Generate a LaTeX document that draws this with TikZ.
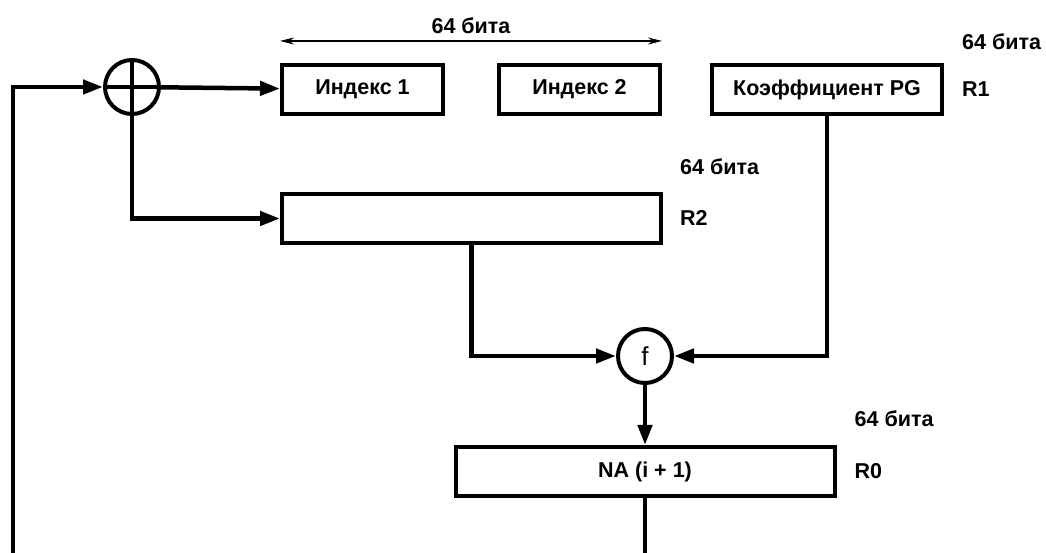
\documentclass[tikz,border=0pt]{standalone}
\usepackage{fontspec}
\setmainfont{Liberation Sans}
\usetikzlibrary{positioning, arrows.meta}

\begin{document}
\begin{tikzpicture}[x=1pt, y=1pt,
    block/.style={rectangle, draw, line width=4pt, minimum height=49pt,
                  font=\fontsize{21.5}{25}\selectfont\bfseries, inner sep=0pt},
    gate/.style={circle, draw, line width=4pt, minimum size=54pt, inner sep=0pt,
                 font=\fontsize{26}{30}\selectfont},
    lbl/.style={font=\fontsize{21.5}{25}\selectfont\bfseries, inner sep=0pt, anchor=west},
    arrow/.style={line width=4.5pt, -{Triangle[length=20pt, width=14pt]}},
    line/.style={line width=4.5pt},
    dimarrow/.style={line width=1.8pt, {Stealth[length=14pt, width=7pt]}-{Stealth[length=14pt, width=7pt]}}
]
    \useasboundingbox (0,0) rectangle (1046,553);

    % registers
    \node[gate]                                   (xor)   at (132,466)   {};
    \draw[line width=4pt] (xor.north) -- (xor.south) (xor.west) -- (xor.east);
    \node[block, minimum width=161pt]             (idx1)  at (362.5,463.5) {Индекс 1};
    \node[block, minimum width=161pt, right=52pt of idx1] (idx2) {Индекс 2};
    \node[block, minimum width=230pt, right=48pt of idx2] (pg)   {Коэффициент PG};
    \node[block, minimum width=379pt, below=76pt of idx1.south west, anchor=north west] (r2box) {};
    \node[gate]                                   (f)     at (645,197)   {f};
    \node[block, minimum width=379pt, below=60pt of f] (na) {NA (i + 1)};

    % labels
    \node[lbl, right=18pt of pg]                  (r1)    {R1};
    \node[lbl, above=48pt of r1.west, anchor=west] (bits1) {64 бита};
    \node[lbl, right=17pt of r2box]               (r2)    {R2};
    \node[lbl, above=52pt of r2.west, anchor=west] (bits2) {64 бита};
    \node[lbl, right=18pt of na]                  (r0)    {R0};
    \node[lbl, above=53pt of r0.west, anchor=west] (bits3) {64 бита};

    % connectors
    \coordinate (loopend) at (13,0);
    \draw[arrow] (loopend)     |- (xor);
    \draw[arrow] (xor)         -- (idx1);
    \draw[arrow] (xor.south)   |- (r2box.west);
    \draw[arrow] (r2box.south) |- (f.west);
    \draw[arrow] (pg.south)    |- (f.east);
    \draw[arrow] (f)           -- (na);
    \draw[line]  (na.south)    -- (na.south |- loopend);
    \draw[dimarrow] ([yshift=22pt]idx1.north west) -- node[lbl, above=6pt] {64 бита}
                    ([yshift=22pt]idx2.north east);
\end{tikzpicture}
\end{document}
